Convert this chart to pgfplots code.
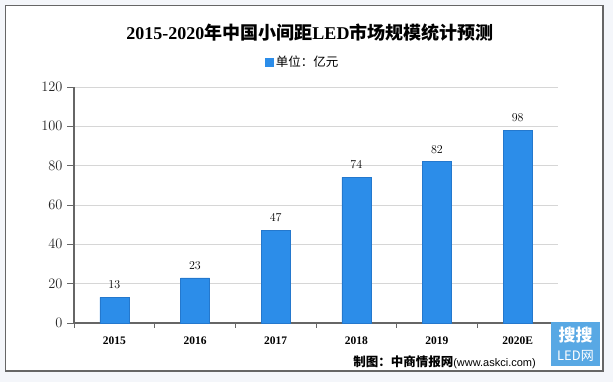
\documentclass[border=0pt]{standalone}
\usepackage{pgfplots}
\pgfplotsset{compat=1.18}
\usepackage{fontspec}
\setmainfont{Liberation Serif}
\newfontfamily\cjk{Noto Sans CJK SC}
\newfontfamily\sans{Liberation Sans}
\definecolor{barblue}{RGB}{44,141,233}
\definecolor{baredge}{RGB}{36,120,205}
\definecolor{bgc}{RGB}{244,246,250}
\definecolor{logoblue}{RGB}{88,168,228}
\begin{document}
\begin{tikzpicture}[x=1pt,y=1pt]
\fill[bgc] (0,0) rectangle (613,382);
\filldraw[fill=white, draw=black!60, line width=1.2pt] (5.5,11) rectangle (603,376.5);
\node[font=\fontsize{18}{18}\selectfont\bfseries] at (310,349)
  {2015-2020{\cjk 年中国小间距}LED{\cjk 市场规模统计预测}};
\begin{axis}[
  at={(74pt,59pt)}, anchor=south west,
  scale only axis, width=484pt, height=236pt,
  xmin=-0.5, xmax=5.5, ymin=0, ymax=120,
  ytick={0,20,...,120},
  xtick={0,...,5},
  xticklabels={2015,2016,2017,2018,2019,2020E},
  minor xtick={-0.5,0.5,...,5.5},
  tick align=outside,
  major tick length=7pt, minor tick length=5pt,
  major x tick style={draw=none},
  minor x tick style={draw=black!60, line width=0.9pt},
  major y tick style={draw=black!60, line width=0.9pt},
  axis x line*=bottom, axis y line*=left,
  axis line style={black!60, line width=1.1pt, -},
  ymajorgrids, grid style={black!16, line width=0.8pt},
  yticklabel style={font=\fontsize{14}{14}\selectfont, xshift=-1pt, black!85},
  xticklabel style={font=\fontsize{11.5}{12}\selectfont\bfseries, yshift=-3pt},
  ybar, bar width=29pt,
  nodes near coords,
  every node near coord/.append style={font=\fontsize{12}{12}\selectfont, black, yshift=5pt},
  legend style={at={(0.5,1)}, anchor=center, xshift=-13pt, yshift=25pt, draw=none, fill=none,
    font=\cjk\fontsize{12.5}{13}\selectfont, inner sep=0pt},
  legend image code/.code={\fill[barblue] (0pt,-4pt) rectangle (8pt,4pt);},
  clip=false,
]
\addplot[fill=barblue, draw=baredge, line width=0.5pt] coordinates {(0,13) (1,23) (2,47) (3,74) (4,82) (5,98)};
\addlegendentry{单位：亿元}
\end{axis}
\node[anchor=east, inner sep=0pt] at (536,20) {{\cjk\bfseries\fontsize{12.5}{12}\selectfont 制图：中商情报网}{\sans\fontsize{11}{12}\selectfont (www.askci.com)}};
\fill[logoblue] (551,16) rectangle (600,60);
\node[white, font=\cjk\bfseries\fontsize{17}{17}\selectfont] at (575.5,47) {搜搜};
\node[white, font=\cjk\fontsize{13}{13}\selectfont] at (575.5,26) {LED网};
\end{tikzpicture}
\end{document}
